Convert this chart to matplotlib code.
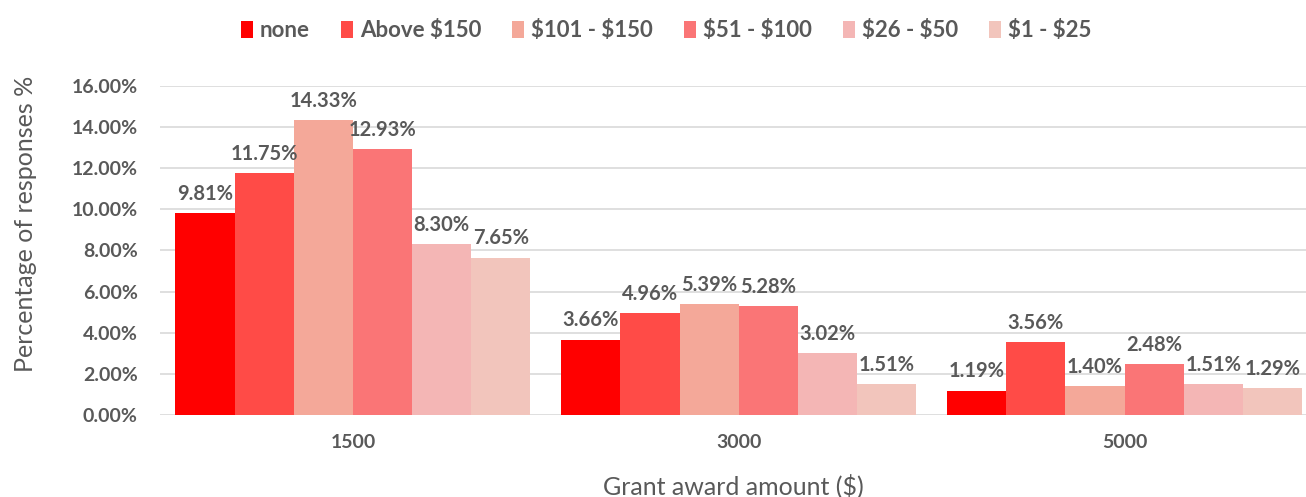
import matplotlib.pyplot as plt
import numpy as np

plt.rcParams['font.family'] = ['Lato', 'DejaVu Sans']

# Share of responses by grant amount and donation bracket
grants = ['1500', '3000', '5000']
brackets = ['none', r'Above \$150', r'\$101 - \$150', r'\$51 - \$100', r'\$26 - \$50', r'\$1 - \$25']
values = [
    [9.81, 3.66, 1.19],
    [11.75, 4.96, 3.56],
    [14.33, 5.39, 1.40],
    [12.93, 5.28, 2.48],
    [8.30, 3.02, 1.51],
    [7.65, 1.51, 1.29],
]
colors = ['#ff0000', '#ff4b47', '#f4a899', '#fa7576', '#f4b6b5', '#f2c5bc']

grey = '#595959'
fig = plt.figure(figsize=(13.06, 4.97), dpi=100)
ax = fig.add_axes([0.1225, 0.165, 0.8775, 0.662])

x = np.arange(len(grants))
width = 0.92 / len(brackets)
for i, (name, vals) in enumerate(zip(brackets, values)):
    pos = x - 0.46 + width * (i + 0.5)
    ax.bar(pos, vals, width, color=colors[i], label=name, zorder=2)
    for px, v in zip(pos, vals):
        ax.text(px, v + 0.45, f'{v:.2f}%', ha='center', va='bottom',
                fontsize=14.5, fontweight='bold', color=grey, zorder=3)

ax.set_ylim(0, 16)
ax.set_xlim(-0.5, 2.47)
ax.set_yticks(np.arange(0, 17, 2))
ax.set_yticklabels([f'{t:.2f}%' for t in np.arange(0, 17, 2)])
ax.set_xticks(x)
ax.set_xticklabels(grants)
ax.yaxis.grid(True, color='#d9d9d9', linewidth=1.2, zorder=0)
ax.set_axisbelow(True)
for s in ax.spines.values():
    s.set_visible(False)
ax.tick_params(axis='both', length=0, labelsize=14, labelcolor=grey)
for lbl in ax.get_xticklabels() + ax.get_yticklabels():
    lbl.set_fontweight('bold')
ax.tick_params(axis='y', pad=16)
ax.tick_params(axis='x', pad=14)

ax.set_xlabel('Grant award amount ($)', fontsize=18, color=grey, labelpad=16)
ax.set_ylabel('Percentage of responses %', fontsize=18, color=grey)
ax.yaxis.set_label_coords(-0.107, 0.58)

leg = fig.legend(loc='upper center', bbox_to_anchor=(0.51, 1.0), ncol=6,
                 frameon=False, fontsize=16, handlelength=0.55, handleheight=0.8,
                 handletextpad=0.3, columnspacing=1.4)
for t in leg.get_texts():
    t.set_color(grey)
    t.set_fontweight('bold')

fig.savefig('out.png', dpi=100)
